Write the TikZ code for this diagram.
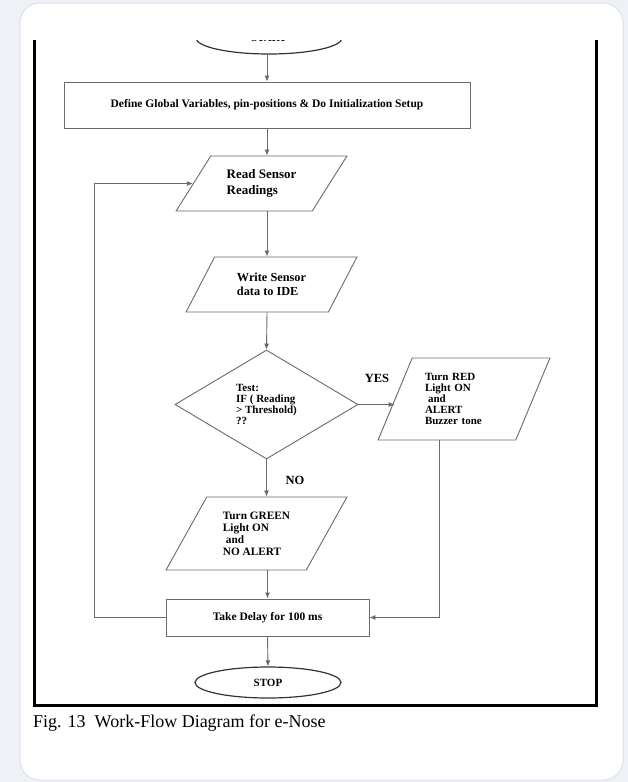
\documentclass[tikz,border=0pt]{standalone}
\usepackage{fontspec}
\setmainfont{Liberation Serif}
\usetikzlibrary{shapes.geometric,arrows.meta}
\definecolor{pagebg}{HTML}{EEF1F5}
\definecolor{cardedge}{HTML}{DDE2EA}
\definecolor{linegray}{HTML}{6A6A6A}
\definecolor{ovalgray}{HTML}{333333}

\begin{document}
\begin{tikzpicture}[x=1pt,y=-1pt,
    box/.style={draw=linegray,line width=0.9pt,fill=white,inner sep=0pt},
    iobox/.style={box,trapezium,trapezium stretches=true,align=left},
    oval/.style={box,ellipse,draw=ovalgray,line width=1.2pt},
    flow/.style={draw=linegray,line width=0.9pt,-{Latex[length=6pt,width=5pt]}},
    lbl/.style={font=\bfseries\fontsize{12.5}{14}\selectfont}]

    \useasboundingbox (0,0) rectangle (628,782);
    \fill[pagebg] (0,0) rectangle (628,782);
    \filldraw[draw=cardedge,line width=1,fill=white,rounded corners=20]
    (20,3) rectangle (623,780);

    % frame of the figure
    \draw[line width=3] (34.5,40) -- (34.5,705.5) -- (596.5,705.5) -- (596.5,40);

    \begin{scope}
      \clip (0,40) rectangle (628,782);
      \node[oval,minimum width=146,minimum height=32,
      font=\bfseries\fontsize{11}{12}\selectfont] (start) at (269,38) {START};
    \end{scope}

    \node[box,minimum width=406,minimum height=46,
    font=\bfseries\fontsize{11.5}{13}\selectfont] (define) at (267,105)
    {Define Global Variables, pin-positions \& Do Initialization Setup};

    \node[iobox,trapezium left angle=49.5,trapezium right angle=130.5,
    minimum width=171,minimum height=55,
    font=\bfseries\fontsize{13}{16}\selectfont] (read) at (261.5,183.5)
    {Read Sensor\\
      Readings};

    \node[iobox,trapezium left angle=52.6,trapezium right angle=127.4,
    minimum width=171,minimum height=55,
    font=\bfseries\fontsize{12.3}{14}\selectfont] (write) at (271.5,284.5)
    {Write Sensor\\
      data to IDE};

    \node[box,diamond,aspect=1.7,minimum width=183,minimum height=109,align=left,
    font=\bfseries\fontsize{11}{11}\selectfont] (test) at (266.5,404.5)
    {Test:\\
      IF ( Reading\\
      > Threshold)\\
      ??};

    \node[iobox,trapezium left angle=63.4,trapezium right angle=116.6,
    minimum width=172,minimum height=82,text width=78,
    font=\bfseries\fontsize{11}{11}\selectfont] (red) at (464,399)
    {Turn RED\\
      Light ON\\
      \hspace*{3pt}and\\
      ALERT\\
      Buzzer tone};

    \node[iobox,trapezium left angle=57.8,trapezium right angle=122.2,
    minimum width=181,minimum height=73,
    font=\bfseries\fontsize{11.3}{12}\selectfont] (green) at (256.5,533.5)
    {Turn GREEN\\
      Light ON\\
      \hspace*{3pt}and\\
      NO ALERT};

    \node[box,minimum width=203,minimum height=37,
    font=\bfseries\fontsize{11.5}{12}\selectfont] (delay) at (267.5,617.5)
    {Take Delay for 100 ms};

    \node[oval,minimum width=146,minimum height=31,
    font=\bfseries\fontsize{11}{12}\selectfont] (stop) at (268,682.5) {STOP};

    \node[lbl] (yes) at (377,378) {YES};
    \node[lbl] (no) at (295,480) {NO};

    \node[anchor=base west,inner sep=0,font=\fontsize{18}{20}\selectfont]
    (caption) at (33,727) {Fig. 13\ \ Work-Flow Diagram for e-Nose};

    % connectors
    \coordinate (loopx) at (94,0);
    \coordinate (dropx) at (439,0);

    \draw[flow] (start.south -| define) -- (define.north);
    \draw[flow] (define.south) -- (read.north -| define);
    \draw[flow] (read.south -| define) -- (write.north -| define);
    \draw[flow] (write.south -| define) -- (test.north);
    \draw[flow] (test.east) -- (test.east -| red.west);
    \draw[flow] (test.south) -- (green.north -| test);
    \draw[flow] (green.south -| delay) -- (delay.north);
    \draw[flow] (delay.south) -- (stop.north);
    \draw[flow] (delay.west) -- (delay.west -| loopx) -- (read.west -| loopx) -- (read.west);
    \draw[flow] (red.south -| dropx) -- (delay.east -| dropx) -- (delay.east);

  \end{tikzpicture}
\end{document}
